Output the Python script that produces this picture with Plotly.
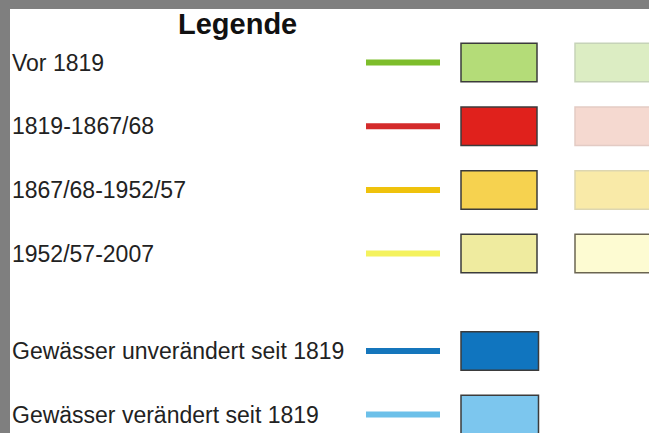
import plotly.graph_objects as go

# ---- data ----
title = "Legende"
labels = ["Vor 1819", "1819-1867/68", "1867/68-1952/57", "1952/57-2007",
          "Gewässer unverändert seit 1819", "Gewässer verändert seit 1819"]
line_colors = ["#7dbd2b", "#d42b2b", "#efc20c", "#f4f25e", "#1576bc", "#6cc0e9"]
box_colors = ["#b4dc78", "#e0211c", "#f6d24f", "#efeb9f", "#1075bf", "#7cc6ee"]
light_colors = ["#dcedc3", "#f5d9d0", "#f9eaa8", "#fdfbd2", None, None]
light_borders = ["#c6d3b8", "#e3cbc4", "#ddd6b0", "#6b6551", None, None]

# ---- layout constants (pixel-like axis units) ----
W, H = 649, 433
row_y = [62.5 + 63.7 * i for i in range(4)] + [351, 414.5]
box_h = 38.5

fig = go.Figure()
annotations = []
shapes = []

annotations.append(dict(x=237, y=24, text="<b>" + title + "</b>", showarrow=False,
                        xanchor="center", yanchor="middle",
                        font=dict(family="Liberation Sans, Arial", size=29, color="#111")))

for i, lab in enumerate(labels):
    y = row_y[i]
    annotations.append(dict(x=10, y=y, text=lab, showarrow=False, xanchor="left",
                            yanchor="middle",
                            font=dict(family="Liberation Sans, Arial", size=23, color="#222")))
    fig.add_trace(go.Scatter(x=[366, 440], y=[y, y], mode="lines",
                             line=dict(color=line_colors[i], width=6),
                             hoverinfo="skip", showlegend=False))
    shapes.append(dict(type="rect", xref="x", yref="y", x0=461, x1=537 + (1.5 if i >= 4 else 0),
                       y0=y - box_h / 2, y1=y + box_h / 2,
                       fillcolor=box_colors[i], line=dict(color="#3b3b3b", width=1.5)))
    if light_colors[i]:
        shapes.append(dict(type="rect", xref="x", yref="y", x0=575, x1=652,
                           y0=y - box_h / 2, y1=y + box_h / 2,
                           fillcolor=light_colors[i],
                           line=dict(color=light_borders[i], width=1.5)))

fig.update_layout(
    width=W, height=H,
    margin=dict(l=10, r=0, t=9, b=0),
    paper_bgcolor="#7f7f7f", plot_bgcolor="#ffffff",
    xaxis=dict(range=[10, W], visible=False, fixedrange=True),
    yaxis=dict(range=[H, 9], visible=False, fixedrange=True),
    annotations=annotations, shapes=shapes,
    showlegend=False,
)

fig.write_html("out.html", config={"displayModeBar": False},
               post_script="document.body.style.margin='0';document.body.style.overflow='hidden';")
